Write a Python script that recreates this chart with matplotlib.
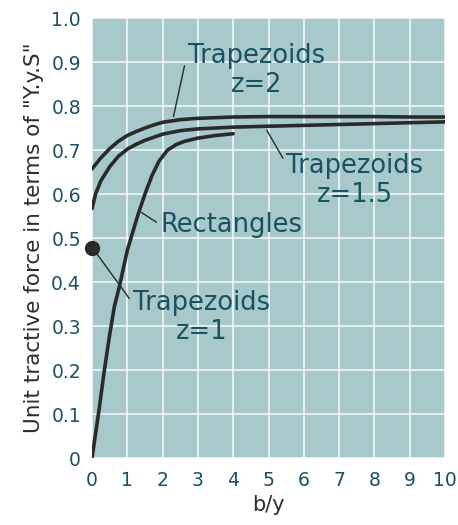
import matplotlib
matplotlib.use("Agg")
import matplotlib.pyplot as plt

# ============================================================
# Data
# ============================================================
Z2_X = [0, 0.25, 0.5, 0.75, 1.0, 1.25, 1.5, 1.75, 2.0, 2.5, 3, 4, 5, 6, 7, 8, 9, 10]
Z2_Y = [0.657, 0.682, 0.703, 0.720, 0.733, 0.742, 0.750, 0.757, 0.763, 0.769,
        0.772, 0.775, 0.776, 0.776, 0.776, 0.776, 0.775, 0.775]

Z15_X = [0, 0.1, 0.25, 0.5, 0.75, 1.0, 1.25, 1.5, 2, 2.5, 3, 4, 5, 6, 7, 8, 9, 10]
Z15_Y = [0.567, 0.600, 0.630, 0.662, 0.686, 0.702, 0.713, 0.722, 0.736, 0.744,
         0.748, 0.752, 0.754, 0.756, 0.758, 0.760, 0.762, 0.764]

RECT_X = [0, 0.2, 0.34, 0.5, 0.63, 0.77, 1.0, 1.29, 1.5, 1.7, 1.9, 2.14, 2.4,
          2.63, 3.0, 3.5, 4.0]
RECT_Y = [0, 0.11, 0.194, 0.28, 0.343, 0.388, 0.472, 0.55, 0.60, 0.642, 0.675,
          0.70, 0.713, 0.72, 0.727, 0.733, 0.737]

Z1_POINT = (0, 0.477)

X_TICKS = list(range(0, 11))
Y_TICKS = [0, 0.1, 0.2, 0.3, 0.4, 0.5, 0.6, 0.7, 0.8, 0.9, 1.0]
Y_TICK_LABELS = ["0", "0.1", "0.2", "0.3", "0.4", "0.5", "0.6", "0.7", "0.8", "0.9", "1.0"]

# ============================================================
# Style
# ============================================================
BG = "#a7c9cb"
CURVE = "#2a2a2a"
TEXT = "#1a5262"
LABEL = "#2e2e2e"

fig = plt.figure(figsize=(4.58, 5.25), dpi=100)
ax = fig.add_axes([0.2009, 0.1276, 0.7707, 0.8381])
ax.set_facecolor(BG)

ax.plot(Z2_X, Z2_Y, color=CURVE, lw=2.6, solid_capstyle="round", zorder=3)
ax.plot(Z15_X, Z15_Y, color=CURVE, lw=2.6, solid_capstyle="round", zorder=3)
ax.plot(RECT_X, RECT_Y, color=CURVE, lw=2.6, solid_capstyle="round", zorder=3)
ax.plot([Z1_POINT[0]], [Z1_POINT[1]], "o", color=CURVE, ms=10, clip_on=False, zorder=4)

ax.set_xlim(0, 10)
ax.set_ylim(0, 1.0)
ax.set_xticks(X_TICKS)
ax.set_yticks(Y_TICKS)
ax.set_yticklabels(Y_TICK_LABELS)
ax.grid(True, color="white", lw=1.1, alpha=0.9)
ax.set_axisbelow(True)
for s in ax.spines.values():
    s.set_visible(False)
ax.tick_params(length=0, labelsize=13.5, labelcolor=TEXT)
ax.tick_params(axis="y", pad=8)
ax.tick_params(axis="x", pad=9)

ax.set_xlabel("b/y", fontsize=15, color=LABEL, labelpad=4)
ax.set_ylabel('Unit tractive force in terms of "Y.y.S"', fontsize=15.5, color=LABEL, labelpad=5)

# annotations with thin leader lines
lead = dict(arrowstyle="-", color=CURVE, lw=1.0, shrinkA=1, shrinkB=1)
txt = dict(fontsize=18.5, color=TEXT, ha="center", va="center", linespacing=1.15)
ax.annotate("Trapezoids\nz=2", xy=(2.3, 0.773), xytext=(4.65, 0.88),
            arrowprops=dict(lead, relpos=(0.0, 0.85)), **txt)
ax.annotate("Trapezoids\nz=1.5", xy=(4.93, 0.748), xytext=(7.45, 0.63),
            arrowprops=dict(lead, relpos=(0.0, 0.8)), **txt)
ax.annotate("Rectangles", xy=(1.36, 0.56), xytext=(3.95, 0.53),
            arrowprops=dict(lead, relpos=(0.0, 0.5)), **txt)
ax.annotate("Trapezoids\nz=1", xy=(0.12, 0.466), xytext=(3.1, 0.32),
            arrowprops=dict(lead, relpos=(0.0, 0.75)), **txt)

fig.savefig("out.png", dpi=100)
